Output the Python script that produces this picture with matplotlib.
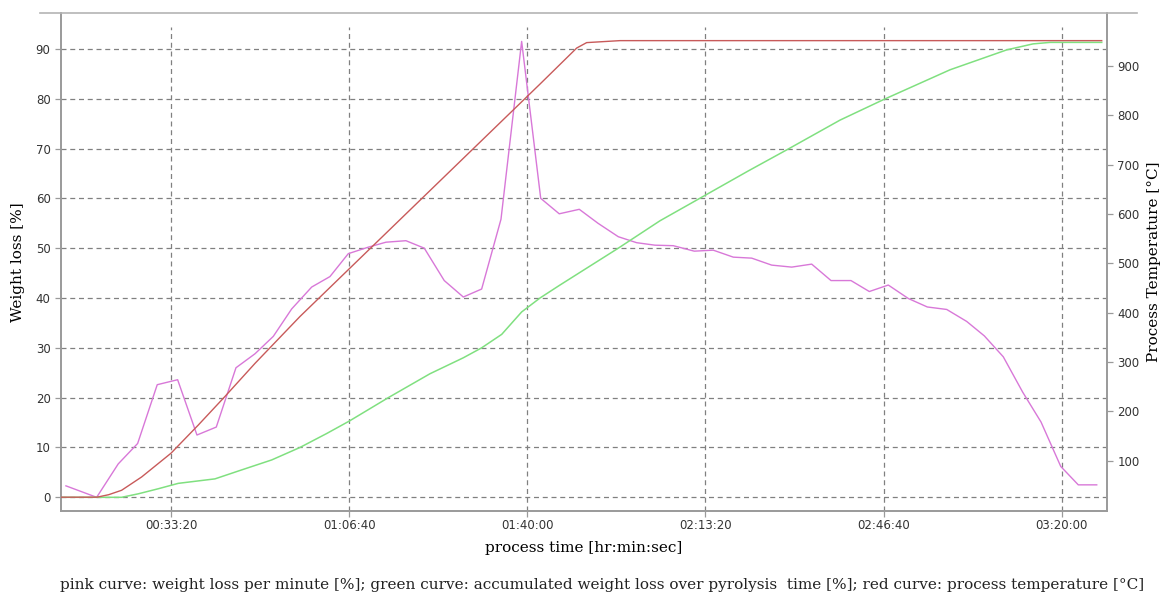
import matplotlib.pyplot as plt
from matplotlib.ticker import FuncFormatter, MultipleLocator
from matplotlib.lines import Line2D

# --- data (time in seconds) ---
pink_t = [821, 1166, 1408, 1626, 1846, 2075, 2292, 2509, 2730, 2943, 3149, 3355,
          3580, 3785, 3991, 4215, 4414, 4638, 4844, 5068, 5282, 5488, 5705, 5937,
          6151, 6359, 6584, 6794, 7022, 7228, 7434, 7639, 7875, 8088, 8313, 8520,
          8744, 8969, 9193, 9410, 9634, 9840, 10053, 10278, 10491, 10709, 10933,
          11131, 11344, 11562, 11768, 11989, 12186, 12393]
pink_rate = [2.3, 0.0, 6.7, 10.8, 22.6, 23.6, 12.5, 14.1, 26.0, 28.8, 32.3, 37.8,
             42.2, 44.3, 48.9, 50.2, 51.2, 51.5, 50.0, 43.5, 40.2, 41.8, 55.8, 91.5,
             60.0, 56.9, 57.8, 55.0, 52.3, 51.1, 50.6, 50.5, 49.4, 49.6, 48.2, 48.0,
             46.6, 46.2, 46.8, 43.5, 43.5, 41.3, 42.6, 39.9, 38.2, 37.7, 35.3,
             32.4, 28.2, 21.1, 15.1, 6.2, 2.5, 2.5]

green_t = [765, 1446, 1633, 1854, 2082, 2494, 2794, 3131, 3448, 3748, 4002, 4440,
           4908, 5282, 5488, 5713, 5937, 6143, 6367, 7022, 7490, 7976, 8481, 8930,
           9511, 9997, 10746, 11383, 11678, 11869, 12449]
green_acc = [0.0, 0.0, 0.7, 1.7, 2.8, 3.7, 5.5, 7.5, 10.0, 12.8, 15.3, 20.0,
             24.8, 28.0, 30.0, 32.7, 37.2, 40.0, 42.6, 50.0, 55.5, 60.4, 65.5, 69.9,
             75.7, 79.8, 85.8, 89.8, 91.0, 91.3, 91.3]

red_t = [765, 1169, 1300, 1446, 1671, 2000, 2306, 2606, 2943, 3448, 6143, 6555,
         6667, 7041, 12449]
red_temp = [26, 26, 31, 40, 67, 115, 172, 230, 297, 392, 863, 936,
            947, 951, 951]

x_ticks = [2000, 4000, 6000, 8000, 10000, 12000]
caption = ("pink curve: weight loss per minute [%]; green curve: accumulated weight loss "
           "over pyrolysis  time [%]; red curve: process temperature [°C]")


def hms(v, pos=None):
    v = int(round(v))
    return "%02d:%02d:%02d" % (v // 3600, (v % 3600) // 60, v % 60)


fig = plt.figure(figsize=(11.63, 5.96), dpi=100)
ax = fig.add_axes((0.0524, 0.1426, 0.8995, 0.8356))
ax2 = ax.twinx()

grid_kw = dict(color="#808080", linestyle=(0, (4, 3)), linewidth=0.9)

ax.set_xlim(765, 12509)
ax.set_ylim(-2.75, 97.2)
ax2.set_ylim(-2, 1007)

ax.yaxis.set_major_locator(MultipleLocator(10))
ax.set_xticks(x_ticks)
ax.xaxis.set_major_formatter(FuncFormatter(hms))
ax2.set_yticks(range(100, 1000, 100))

ax.grid(axis="y", **grid_kw)
for xt in x_ticks:
    ax.axvline(xt, ymax=0.972, **grid_kw)

ax.plot(pink_t, pink_rate, color="#d878d8", lw=1.0, zorder=3)
ax.plot(green_t, green_acc, color="#80e080", lw=1.1, zorder=3)
ax2.plot(red_t, red_temp, color="#c85a5a", lw=1.0, zorder=3)

for a in (ax, ax2):
    for s in a.spines.values():
        s.set_color("#9a9a9a")
        s.set_linewidth(1.2)
    a.spines["top"].set_visible(False)
    a.tick_params(colors="#9a9a9a", labelcolor="#333333", labelsize=8.5,
                  length=4, width=0.9)
ax.tick_params(axis="x", pad=2)

serif = ["DejaVu Serif"]
ax.set_ylabel("Weight loss [%]", family=serif, fontsize=11, labelpad=8)
ax2.set_ylabel("Process Temperature [°C]", family=serif, fontsize=11, labelpad=5)
ax.set_xlabel("process time [hr:min:sec]", family=serif, fontsize=11, labelpad=6)

fig.add_artist(Line2D([40 / 1163, 1137 / 1163], [0.978, 0.978],
                      color="#b4b4b4", lw=1.2, transform=fig.transFigure))
fig.text(0.518, 0.006, caption, ha="center", va="bottom", family=serif,
         fontsize=11.0, color="#222222")

fig.savefig("out.png", dpi=100)
